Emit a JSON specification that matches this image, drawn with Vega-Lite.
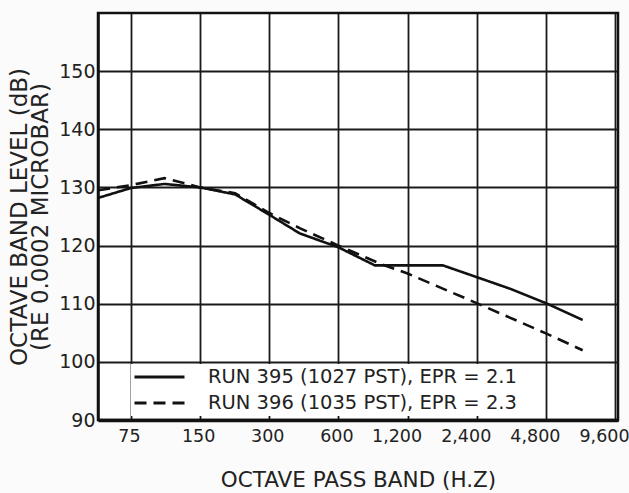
{
  "$schema": "https://vega.github.io/schema/vega-lite/v6.json",
  "width": 520,
  "height": 407,
  "autosize": {"type": "none"},
  "padding": {"left": 98, "top": 13, "right": 11, "bottom": 73},
  "background": "#fbfbfb",
  "config": {
    "view": {"stroke": "#111", "strokeWidth": 2.5, "fill": "white"},
    "font": "DejaVu Sans"
  },
  "data": {
    "values": [
      {"run": "RUN 395 (1027 PST), EPR = 2.1", "freq": 54, "db": 128.2},
      {"run": "RUN 395 (1027 PST), EPR = 2.1", "freq": 75, "db": 129.9},
      {"run": "RUN 395 (1027 PST), EPR = 2.1", "freq": 105, "db": 130.6},
      {"run": "RUN 395 (1027 PST), EPR = 2.1", "freq": 150, "db": 130.0},
      {"run": "RUN 395 (1027 PST), EPR = 2.1", "freq": 213, "db": 128.8},
      {"run": "RUN 395 (1027 PST), EPR = 2.1", "freq": 300, "db": 125.3},
      {"run": "RUN 395 (1027 PST), EPR = 2.1", "freq": 407, "db": 122.1},
      {"run": "RUN 395 (1027 PST), EPR = 2.1", "freq": 600, "db": 119.7},
      {"run": "RUN 395 (1027 PST), EPR = 2.1", "freq": 864, "db": 116.6},
      {"run": "RUN 395 (1027 PST), EPR = 2.1", "freq": 1708, "db": 116.6},
      {"run": "RUN 395 (1027 PST), EPR = 2.1", "freq": 3340, "db": 112.6},
      {"run": "RUN 395 (1027 PST), EPR = 2.1", "freq": 4800, "db": 110.1},
      {"run": "RUN 395 (1027 PST), EPR = 2.1", "freq": 6940, "db": 107.2},
      {"run": "RUN 396 (1035 PST), EPR = 2.3", "freq": 54, "db": 129.5},
      {"run": "RUN 396 (1035 PST), EPR = 2.3", "freq": 75, "db": 130.4},
      {"run": "RUN 396 (1035 PST), EPR = 2.3", "freq": 105, "db": 131.6},
      {"run": "RUN 396 (1035 PST), EPR = 2.3", "freq": 150, "db": 130.0},
      {"run": "RUN 396 (1035 PST), EPR = 2.3", "freq": 213, "db": 129.0},
      {"run": "RUN 396 (1035 PST), EPR = 2.3", "freq": 300, "db": 125.6},
      {"run": "RUN 396 (1035 PST), EPR = 2.3", "freq": 407, "db": 123.0},
      {"run": "RUN 396 (1035 PST), EPR = 2.3", "freq": 600, "db": 120.0},
      {"run": "RUN 396 (1035 PST), EPR = 2.3", "freq": 909, "db": 116.9},
      {"run": "RUN 396 (1035 PST), EPR = 2.3", "freq": 1200, "db": 115.2},
      {"run": "RUN 396 (1035 PST), EPR = 2.3", "freq": 2400, "db": 110.1},
      {"run": "RUN 396 (1035 PST), EPR = 2.3", "freq": 4800, "db": 104.9},
      {"run": "RUN 396 (1035 PST), EPR = 2.3", "freq": 6940, "db": 102.0}
    ]
  },
  "mark": {"type": "line", "color": "#111", "strokeWidth": 2.6},
  "encoding": {
    "x": {
      "field": "freq",
      "type": "quantitative",
      "scale": {"type": "log", "domain": [53.9, 9890], "nice": false},
      "axis": {
        "title": "OCTAVE PASS BAND (H.Z)",
        "titleFont": "DejaVu Sans",
        "titleFontSize": 21.5,
        "titleFontWeight": "normal",
        "titleColor": "#222",
        "titlePadding": 25,
        "values": [75, 150, 300, 600, 1200, 2400, 4800, 9600],
        "format": ",d",
        "labelFontSize": 17.5,
        "labelColor": "#222",
        "labelPadding": 7,
        "labelFlush": false,
        "labelOverlap": false,
        "labelOffset": {"condition": {"test": "datum.value >= 1200", "value": -11}, "value": -2},
        "tickSize": 0,
        "grid": true,
        "gridColor": "#1a1a1a",
        "gridWidth": 1.8,
        "gridOpacity": 1,
        "domainColor": "#111",
        "domainWidth": 3.5
      }
    },
    "y": {
      "field": "db",
      "type": "quantitative",
      "scale": {"domain": [90, 160], "nice": false, "zero": false},
      "axis": {
        "title": ["OCTAVE BAND LEVEL (dB)", "(RE 0.0002 MICROBAR)"],
        "titleFont": "DejaVu Sans",
        "titleFontSize": 23,
        "titleFontWeight": "normal",
        "titleColor": "#222",
        "titleLineHeight": 21,
        "titlePadding": 6,
        "values": [90, 100, 110, 120, 130, 140, 150],
        "labelFontSize": 19,
        "labelColor": "#222",
        "labelPadding": 3,
        "labelFlush": false,
        "tickSize": 0,
        "grid": true,
        "gridColor": "#1a1a1a",
        "gridWidth": 1.8,
        "gridOpacity": 1,
        "domainColor": "#111",
        "domainWidth": 2.5
      }
    },
    "detail": {"field": "run", "type": "nominal"},
    "strokeDash": {
      "field": "run",
      "type": "nominal",
      "scale": {"range": [[1, 0], [12, 7]]},
      "legend": {
        "title": null,
        "orient": "none",
        "legendX": 33,
        "legendY": 351,
        "symbolType": "stroke",
        "symbolSize": 2500,
        "symbolStrokeWidth": 3,
        "symbolStrokeColor": "#111",
        "clipHeight": 22,
        "rowPadding": 4,
        "labelFontSize": 19.5,
        "labelColor": "#222",
        "labelOffset": 22,
        "labelLimit": 500,
        "fillColor": "white",
        "padding": 2
      }
    }
  }
}
